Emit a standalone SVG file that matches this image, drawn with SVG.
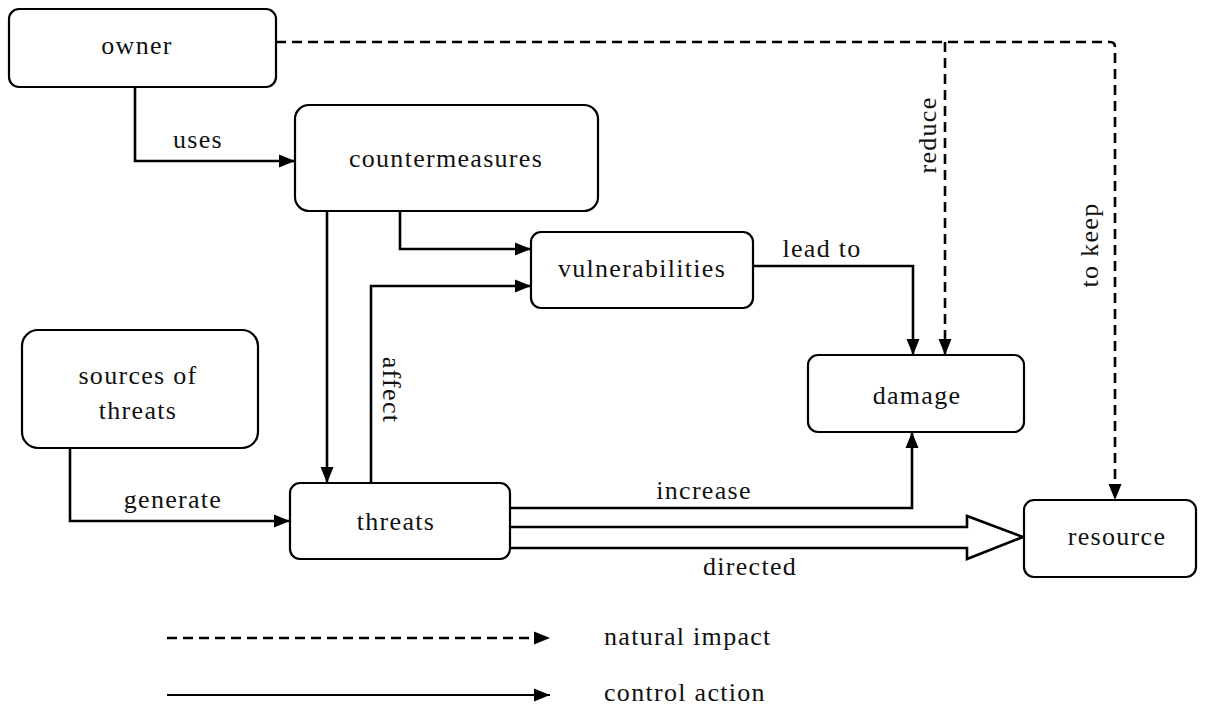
<svg xmlns="http://www.w3.org/2000/svg" width="1216" height="708" viewBox="0 0 1216 708">
<style>
.box{fill:#fff;stroke:#000;stroke-width:2.2}
.t{font-family:"Liberation Serif","DejaVu Serif",serif;font-size:26px;letter-spacing:1.3px;fill:#111;text-anchor:middle}
.c{fill:none;stroke:#000;stroke-width:2.6}
.d{fill:none;stroke:#000;stroke-width:2.6;stroke-dasharray:10 6}
</style>
<defs>
<marker id="ah" markerUnits="userSpaceOnUse" markerWidth="16" markerHeight="16" viewBox="0 0 16 16" refX="16" refY="8" orient="auto">
<path d="M0,1.5 L16,8 L0,14.5 Z" fill="#000"/>
</marker>
</defs>
<rect width="1216" height="708" fill="#fff"/>
<g id="connectors">
<path class="c" d="M135,87 V161 H295" marker-end="url(#ah)"/>
<path class="c" d="M400,211 V249 H531" marker-end="url(#ah)"/>
<path class="c" d="M371,483 V286 H531" marker-end="url(#ah)"/>
<path class="c" d="M327,211 V483" marker-end="url(#ah)"/>
<path class="c" d="M753,266 H913 V355" marker-end="url(#ah)"/>
<path class="c" d="M70,448 V521 H290" marker-end="url(#ah)"/>
<path class="c" d="M510,508 H912 V432" marker-end="url(#ah)"/>
<path d="M510,527 H967 V516 L1023,537 L967,559 V548 H510" fill="#fff" stroke="#000" stroke-width="2.6" stroke-linejoin="miter"/>
<path class="d" d="M276,42 H1110 Q1115,42 1115,47 V500" marker-end="url(#ah)"/>
<path class="d" d="M945,42 V355" marker-end="url(#ah)"/>
<text class="t" x="198" y="148">uses</text>
<text class="t" x="822" y="257">lead to</text>
<text class="t" x="173" y="508">generate</text>
<text class="t" x="704" y="499">increase</text>
<text class="t" x="750" y="575">directed</text>
<text class="t" transform="translate(936,135) rotate(-90)">reduce</text>
<text class="t" transform="translate(1098,245) rotate(-90)">to keep</text>
<text class="t" transform="translate(383,390) rotate(90)">affect</text>
</g>
<g id="owner"><rect class="box" x="9" y="9" width="267" height="78" rx="10"/><text class="t" x="137" y="54">owner</text></g>
<g id="countermeasures"><rect class="box" x="295" y="105" width="303" height="106" rx="14"/><text class="t" x="446" y="167">countermeasures</text></g>
<g id="vulnerabilities"><rect class="box" x="531" y="232" width="222" height="76" rx="10"/><text class="t" x="642" y="277">vulnerabilities</text></g>
<g id="damage"><rect class="box" x="808" y="355" width="216" height="77" rx="10"/><text class="t" x="917" y="404">damage</text></g>
<g id="sources"><rect class="box" x="22" y="330" width="236" height="118" rx="16"/><text class="t" x="138" y="384">sources of</text><text class="t" x="138" y="419">threats</text></g>
<g id="threats"><rect class="box" x="290" y="483" width="220" height="76" rx="10"/><text class="t" x="396" y="530">threats</text></g>
<g id="resource"><rect class="box" x="1024" y="500" width="172" height="77" rx="10"/><text class="t" x="1117" y="545">resource</text></g>
<g id="legend">
<path class="d" d="M167,638 H550" marker-end="url(#ah)"/>
<path d="M167,695 H550" fill="none" stroke="#000" stroke-width="1.8" marker-end="url(#ah)"/>
<text class="t" x="604" y="645" style="text-anchor:start">natural impact</text>
<text class="t" x="604" y="701" style="text-anchor:start">control action</text>
</g>
</svg>
